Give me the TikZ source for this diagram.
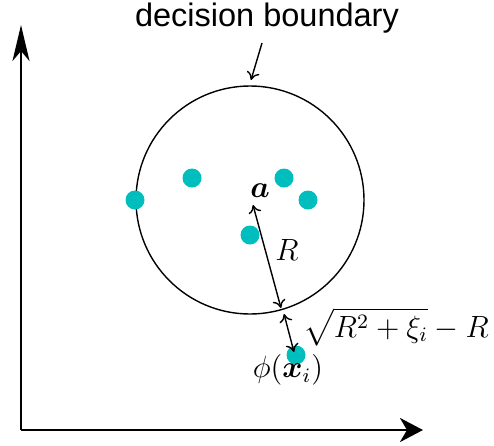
\documentclass[tikz,border=0pt]{standalone}
\usepackage{amsmath,bm}
\usepackage{fontspec}
\setsansfont{Liberation Sans}
\usetikzlibrary{arrows.meta}
\definecolor{dotc}{RGB}{0,190,190}
\newcommand{\mylbl}[1]{\scalebox{2.56}{\fontsize{12}{14}\selectfont #1}}
\begin{document}
\begin{tikzpicture}[x=1pt,y=-1pt,
  dot/.style={circle,fill=dotc,inner sep=0pt,minimum size=19pt},
  lbl/.style={inner sep=0pt},
  ptr/.style={line width=1.4pt,-{To[length=8pt,width=13pt]}},
  dbl/.style={line width=1.4pt,{To[length=8pt,width=13pt]}-{To[length=8pt,width=13pt]}},
  axis/.style={line width=2.8pt}]
\useasboundingbox (0,0) rectangle (494,445);
% axes
\coordinate (o) at (21,430);
\coordinate (ytop) at (21,25);
\coordinate (xend) at (423,430);
\draw[axis,-{Stealth[length=36pt,width=17pt,inset=10pt]}] (o) -- (ytop);
\draw[axis,-{Stealth[length=23pt,width=24pt,inset=7pt]}] (o) -- (xend);
% circle
\node[circle,draw,line width=1.4pt,minimum size=228pt,inner sep=0pt] (circ) at (250,200) {};
% dots
\node[dot] (d1) at (135,200) {};
\node[dot] (d2) at (192,178) {};
\node[dot] (d3) at (284,178) {};
\node[dot] (d4) at (308,200) {};
\node[dot] (d5) at (250,235) {};
\node[dot] (d6) at (296,355) {};
% labels
\node[lbl] (a) at (260,191) {\mylbl{$\bm{a}$}};
\node[lbl] (R) at (287,250) {\mylbl{$R$}};
\node[lbl,anchor=west] (sq) at (303,327) {\mylbl{$\sqrt{R^2+\xi_i}-R$}};
\node[lbl] (phi) at (288,370) {\mylbl{$\phi(\bm{x}_i)$}};
\node[inner sep=0pt,font=\sffamily\fontsize{32.5}{38}\selectfont] (db) at (267,18) {decision boundary};
% arrows
\coordinate (p1) at (253,205);
\coordinate (p2) at (281,308);
\draw[dbl] (p1) -- (p2);
\coordinate (q1) at (284,314);
\coordinate (q2) at (294,352);
\draw[dbl] (q1) -- (q2);
\coordinate (r1) at (262,43);
\coordinate (r2) at (251,80);
\draw[ptr] (r1) -- (r2);
\end{tikzpicture}
\end{document}
